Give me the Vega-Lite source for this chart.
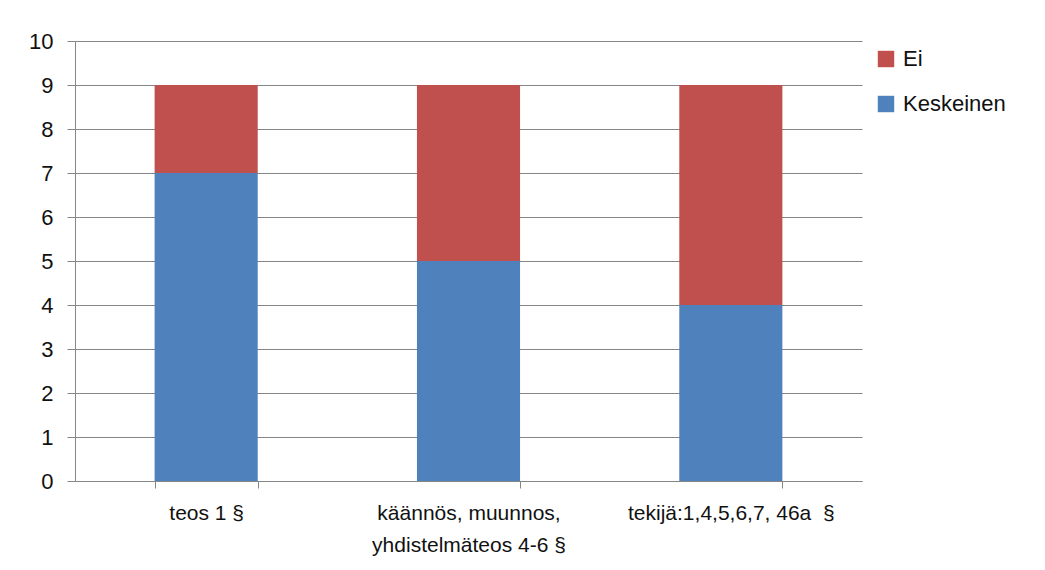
{
  "$schema": "https://vega.github.io/schema/vega-lite/v6.json",
  "width": 787,
  "height": 440,
  "autosize": "none",
  "padding": {"left": 75, "top": 41, "right": 183, "bottom": 89},
  "background": "white",
  "config": {
    "view": {"stroke": null},
    "font": "Liberation Sans",
    "axis": {"labelFont": "Liberation Sans", "labelColor": "#111111"},
    "legend": {"labelFont": "Liberation Sans", "labelColor": "#111111"}
  },
  "data": {
    "values": [
      {"category": "teos 1 §", "series": "Keskeinen", "value": 7},
      {"category": "teos 1 §", "series": "Ei", "value": 2},
      {"category": "käännös, muunnos, yhdistelmäteos 4-6 §", "series": "Keskeinen", "value": 5},
      {"category": "käännös, muunnos, yhdistelmäteos 4-6 §", "series": "Ei", "value": 4},
      {"category": "tekijä:1,4,5,6,7, 46a  §", "series": "Keskeinen", "value": 4},
      {"category": "tekijä:1,4,5,6,7, 46a  §", "series": "Ei", "value": 5}
    ]
  },
  "mark": {"type": "bar"},
  "encoding": {
    "x": {
      "field": "category",
      "type": "nominal",
      "sort": null,
      "title": null,
      "scale": {"paddingInner": 0.607, "paddingOuter": 0.3035},
      "axis": {
        "labelAngle": 0,
        "labelFontSize": 21,
        "labelPadding": 14,
        "labelLineHeight": 32,
        "labelLimit": 400,
        "tickBand": "extent",
        "tickSize": 7,
        "tickColor": "#868686",
        "domainColor": "#868686",
        "grid": false,
        "labelExpr": "datum.label == 'käännös, muunnos, yhdistelmäteos 4-6 §' ? ['käännös, muunnos,', 'yhdistelmäteos 4-6 §'] : datum.label == 'tekijä:1,4,5,6,7, 46a  §' ? 'tekijä:1,4,5,6,7, 46a\u00a0 §' : datum.label"
      }
    },
    "y": {
      "field": "value",
      "type": "quantitative",
      "stack": "zero",
      "title": null,
      "scale": {"domain": [0, 10], "nice": false},
      "axis": {
        "values": [0, 1, 2, 3, 4, 5, 6, 7, 8, 9, 10],
        "labelFontSize": 22,
        "labelPadding": 14,
        "tickSize": 8,
        "tickColor": "#868686",
        "domainColor": "#868686",
        "gridColor": "#868686",
        "gridOpacity": 1
      }
    },
    "color": {
      "field": "series",
      "type": "nominal",
      "title": null,
      "scale": {"domain": ["Ei", "Keskeinen"], "range": ["#C0504D", "#4F81BD"]},
      "legend": {
        "orient": "right",
        "offset": 6,
        "padding": 7,
        "symbolType": "square",
        "symbolSize": 270,
        "symbolStrokeWidth": 0,
        "labelFontSize": 22,
        "labelOffset": 6,
        "rowPadding": 23
      }
    },
    "order": {"field": "series", "sort": "descending"}
  }
}
